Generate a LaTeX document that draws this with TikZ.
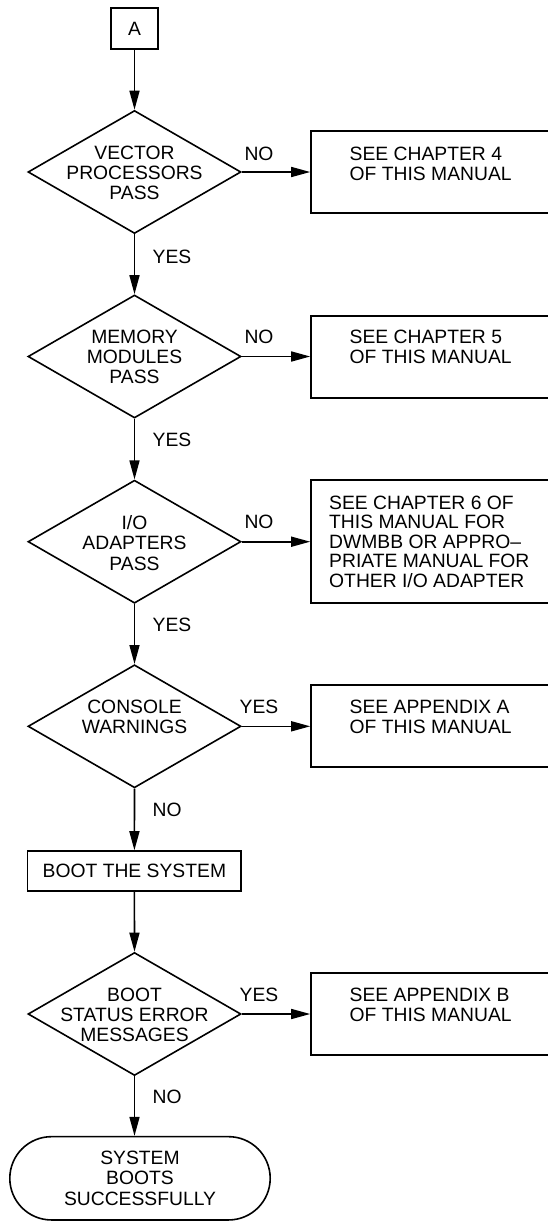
\documentclass[tikz,border=0pt]{standalone}
\usepackage{fontspec}
\setmainfont{Liberation Sans}
\usetikzlibrary{shapes.geometric,shapes.misc,arrows.meta}
\begin{document}
\begin{tikzpicture}[x=1pt,y=-1pt,
  every node/.style={font=\fontsize{19.3}{20.3}\selectfont},
  line/.style={line width=1.6pt},
  flow/.style={line, -{Triangle[length=19pt,width=10pt]}},
  decision/.style={draw, line, diamond, minimum width=213pt, minimum height=123pt, inner sep=0pt},
  refbox/.style={draw, line, rectangle, minimum width=260pt, inner sep=0pt},
  stepbox/.style={draw, line, rectangle, inner sep=0pt},
  txt/.style={inner sep=0pt, align=center},
  reftxt/.style={inner sep=0pt, align=left, anchor=west},
  tag/.style={inner sep=0pt},
  endbox/.style={draw, line, rounded rectangle, minimum width=260.4pt, minimum height=83.3pt, inner sep=0pt, align=center}
]
\useasboundingbox (0,0) rectangle (548,1226);
\clip (0,0) rectangle (548,1226);

% connector A
\node[stepbox, minimum width=47pt, minimum height=41pt] (a) at (134.5,28.5) {A};

% decisions
\node[decision] (d1) at (134.5,172) {};
\node[decision] (d2) at (134.5,356.5) {};
\node[decision] (d3) at (134.5,541.7) {};
\node[decision] (d4) at (134.5,726.3) {};
\node[decision] (d5) at (134.5,1014) {};

\node[txt] (d1t) at (134.5,173) {VECTOR\\PROCESSORS\\PASS};
\node[txt] (d2t) at (134.5,357) {MEMORY\\MODULES\\PASS};
\node[txt] (d3t) at (134.5,543) {I/O\\ADAPTERS\\PASS};
\node[txt] (d4t) at (134.5,717) {CONSOLE\\WARNINGS};
\node[txt] (d5t) at (134.5,1015) {BOOT\\STATUS ERROR\\MESSAGES};

% reference boxes (open to the right)
\node[refbox, minimum height=82pt] (b1) at (441,172) {};
\node[refbox, minimum height=82pt] (b2) at (441,357) {};
\node[refbox, minimum height=123pt] (b3) at (441,541.7) {};
\node[refbox, minimum height=82pt] (b4) at (441,726) {};
\node[refbox, minimum height=82pt] (b5) at (441,1014) {};

\node[reftxt] (b1t) at (349.5,164) {SEE CHAPTER 4\\OF THIS MANUAL};
\node[reftxt] (b2t) at (349.5,347) {SEE CHAPTER 5\\OF THIS MANUAL};
\node[reftxt, font=\fontsize{19.3}{19.4}\selectfont] (b3t) at (329,541.7) {SEE CHAPTER 6 OF\\THIS MANUAL FOR\\DWMBB OR APPRO--\\PRIATE MANUAL FOR\\OTHER I/O ADAPTER};
\node[reftxt] (b4t) at (349.5,717) {SEE APPENDIX A\\OF THIS MANUAL};
\node[reftxt] (b5t) at (349.5,1005) {SEE APPENDIX B\\OF THIS MANUAL};

% process and terminal
\node[stepbox, minimum width=213.6pt, minimum height=40pt] (boot) at (134.4,871) {BOOT THE SYSTEM};
\node[endbox] (done) at (140,1178.3) {SYSTEM\\BOOTS\\SUCCESSFULLY};

% branch labels
\node[tag] (l1) at (259,154) {NO};
\node[tag] (l2) at (259,337) {NO};
\node[tag] (l3) at (259,522) {NO};
\node[tag] (l4) at (259,707) {YES};
\node[tag] (l5) at (259,995) {YES};
\node[tag, anchor=west] (m1) at (152.5,257) {YES};
\node[tag, anchor=west] (m2) at (152.5,440) {YES};
\node[tag, anchor=west] (m3) at (152.5,625) {YES};
\node[tag, anchor=west] (m4) at (152.5,810) {NO};
\node[tag, anchor=west] (m5) at (152.5,1097) {NO};

% main flow
\draw[flow] (a.south) -- (d1.north);
\draw[flow] (d1.south) -- (d2.north);
\draw[flow] (d2.south) -- (d3.north);
\draw[flow] (d3.south) -- (d4.north);
\draw[flow] (d4.south) -- (boot.north);
\draw[flow] (boot.south) -- (d5.north);
\draw[flow] (d5.south) -- (d5.south |- done.north);

% side branches
\draw[flow] (d1.east) -- (d1.east -| b1.west);
\draw[flow] (d2.east) -- (d2.east -| b2.west);
\draw[flow] (d3.east) -- (d3.east -| b3.west);
\draw[flow] (d4.east) -- (d4.east -| b4.west);
\draw[flow] (d5.east) -- (d5.east -| b5.west);
\end{tikzpicture}
\end{document}
